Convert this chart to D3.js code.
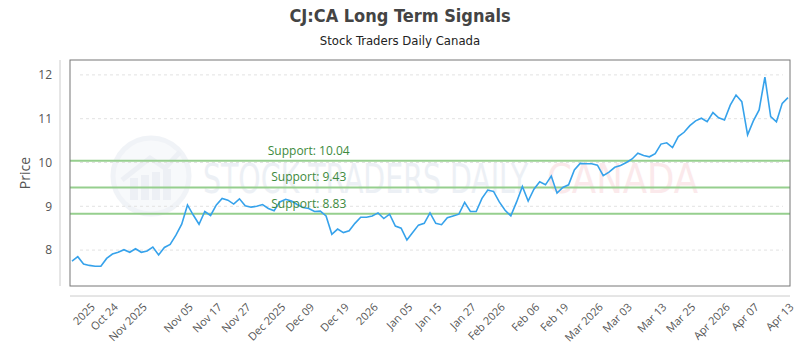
<!DOCTYPE html>
<meta charset="utf-8">
<style>
body { margin: 0; background: #fff; }
.grid line { stroke: #e2e2e2; stroke-dasharray: 3,3; }
.line { fill: none; stroke: #36a2eb; stroke-width: 1.6px; }
</style>
<body>
<svg width="800" height="350"></svg>
<script src="https://d3js.org/d3.v7.min.js"></script>
<script>

// closing prices, one per trading session
var prices = [
  7.75, 7.85, 7.68, 7.65, 7.63, 7.63, 7.81, 7.91, 7.95, 8.01,
  7.95, 8.03, 7.95, 7.98, 8.07, 7.89, 8.06, 8.13, 8.34, 8.59,
  9.03, 8.80, 8.59, 8.88, 8.79, 9.03, 9.18, 9.14, 9.05, 9.17,
  9.01, 8.98, 9.00, 9.04, 8.95, 8.90, 9.10, 9.16, 9.12, 9.04,
  8.97, 8.95, 8.88, 8.89, 8.78, 8.36, 8.48, 8.40, 8.44, 8.61,
  8.75, 8.75, 8.78, 8.85, 8.72, 8.82, 8.55, 8.50, 8.23, 8.40,
  8.57, 8.61, 8.85, 8.61, 8.58, 8.74, 8.78, 8.82, 9.09, 8.88,
  8.88, 9.18, 9.37, 9.34, 9.10, 8.91, 8.78, 9.10, 9.45, 9.12,
  9.39, 9.56, 9.49, 9.69, 9.30, 9.43, 9.49, 9.83, 9.98, 9.97,
  9.97, 9.94, 9.70, 9.78, 9.89, 9.93, 10.00, 10.08, 10.21, 10.16,
  10.13, 10.20, 10.42, 10.45, 10.34, 10.59, 10.69, 10.84, 10.95, 11.01,
  10.93, 11.14, 11.02, 10.97, 11.31, 11.54, 11.39, 10.63, 10.95, 11.20,
  11.95, 11.05, 10.93, 11.35, 11.48
];

var tickLabels = ["2025", "Oct 24", "Nov 2025", "Nov 05", "Nov 17", "Nov 27", "Dec 2025",
  "Dec 09", "Dec 19", "2026", "Jan 05", "Jan 15", "Jan 27", "Feb 2026", "Feb 06",
  "Feb 19", "Mar 2026", "Mar 03", "Mar 13", "Mar 25", "Apr 2026", "Apr 07", "Apr 13"];
var tickIndex = [3, 7, 12, 20, 25, 30, 36, 41, 47, 52, 58, 63, 69, 74, 80, 85, 91, 96, 102, 107, 113, 118, 124];

var supports = [10.04, 9.43, 8.83];
var yTicks = [8, 9, 10, 11, 12];

var svg = d3.select("svg");
var font = "'Open Sans', sans-serif";
var condensed = "'Liberation Sans Narrow', 'DejaVu Sans Condensed', sans-serif";

var box = {left: 70, right: 790, top: 60, bottom: 286};

var x = d3.scalePoint().domain(d3.range(prices.length)).range([72, 788]);
var y = d3.scaleLinear().domain([7.18, 12.34]).range([box.bottom, box.top]);

// title
svg.append("text")
    .attr("x", 400).attr("y", 22)
    .attr("text-anchor", "middle")
    .style("font-family", condensed).style("font-weight", "bold")
    .style("font-size", "18px").style("fill", "#444")
    .text("CJ:CA Long Term Signals");

svg.append("text")
    .attr("x", 400).attr("y", 45)
    .attr("text-anchor", "middle")
    .style("font-family", condensed)
    .style("font-size", "13px").style("fill", "#222")
    .text("Stock Traders Daily Canada");

// watermark
var wm = svg.append("g").style("opacity", 0.5);
wm.append("circle").attr("cx", 151).attr("cy", 176).attr("r", 38)
    .attr("fill", "#f1f4f8").attr("stroke", "#e3e8f0").attr("stroke-width", 5);
wm.selectAll("rect.wb").data([0, 1, 2, 3]).enter().append("rect")
    .attr("x", function(d) { return 130 + d * 11; })
    .attr("y", function(d) { return 178 - d * 3; })
    .attr("width", 8)
    .attr("height", function(d) { return 22 + d * 3; })
    .attr("fill", "#dde3ec");
wm.append("path").attr("d", "M122,180 L150,158 L165,168 L180,152")
    .attr("fill", "none").attr("stroke", "#dde3ec").attr("stroke-width", 5);
wm.append("text")
    .attr("x", 203).attr("y", 193)
    .attr("textLength", 325).attr("lengthAdjust", "spacingAndGlyphs")
    .style("font-family", condensed).style("font-size", "40px")
    .style("fill", "#dbe2ec")
    .text("STOCK TRADERS DAILY");
wm.append("text")
    .attr("x", 547).attr("y", 193)
    .attr("textLength", 151).attr("lengthAdjust", "spacingAndGlyphs")
    .style("font-family", condensed).style("font-size", "40px")
    .style("fill", "#f8d4d8")
    .text("CANADA");

// grid
svg.append("g").attr("class", "grid")
  .selectAll("line").data(yTicks).enter().append("line")
    .attr("x1", 80).attr("x2", 783)
    .attr("y1", function(d) { return y(d); })
    .attr("y2", function(d) { return y(d); });

// support lines
svg.selectAll("line.sup").data(supports).enter().append("line")
    .attr("class", "sup")
    .attr("x1", box.left).attr("x2", box.right)
    .attr("y1", function(d) { return y(d); })
    .attr("y2", function(d) { return y(d); })
    .attr("stroke", "#96cf8e").attr("stroke-width", 2);

// price line
svg.append("path")
    .datum(prices)
    .attr("class", "line")
    .attr("d", d3.line()
        .x(function(d, i) { return x(i); })
        .y(function(d) { return y(d); }));

svg.selectAll("text.sup").data(supports).enter().append("text")
    .attr("class", "sup")
    .attr("x", x(41)).attr("y", function(d) { return y(d) - 6; })
    .attr("text-anchor", "middle")
    .style("font-family", font).style("font-size", "12px")
    .style("fill", "#3d8a3d")
    .text(function(d) { return "Support: " + d.toFixed(2); });

// plot frame
svg.append("rect")
    .attr("x", box.left).attr("y", box.top)
    .attr("width", box.right - box.left).attr("height", box.bottom - box.top)
    .attr("fill", "none").attr("stroke", "#777").attr("stroke-width", 1);

// y axis
var yAxis = svg.append("g")
    .attr("transform", "translate(60,0)")
    .call(d3.axisLeft(y).tickValues(yTicks).tickFormat(d3.format("d")).tickSize(0).tickPadding(8));
yAxis.select(".domain").attr("stroke", "#ccc").attr("d", "M0," + box.top + "V" + box.bottom);
yAxis.selectAll("text").style("font-family", font).style("font-size", "12px").style("fill", "#555");

svg.append("text")
    .attr("transform", "translate(30," + (box.top + box.bottom) / 2 + ") rotate(-90)")
    .attr("text-anchor", "middle")
    .style("font-family", font).style("font-size", "14px").style("fill", "#555")
    .text("Price");

// x axis
var xAxis = svg.append("g")
    .attr("transform", "translate(0,296)")
    .call(d3.axisBottom(x).tickValues(tickIndex).tickSize(0)
        .tickFormat(function(d) { return tickLabels[tickIndex.indexOf(d)]; }));
xAxis.select(".domain").attr("stroke", "#ccc").attr("d", "M" + box.left + ",0H" + box.right);
xAxis.selectAll("text")
    .attr("transform", "translate(0,6) rotate(-45)")
    .attr("text-anchor", "end")
    .attr("dx", "0").attr("dy", "0.75em")
    .attr("y", 0)
    .style("font-family", font).style("font-size", "11px").style("fill", "#555");

</script>
</body>
